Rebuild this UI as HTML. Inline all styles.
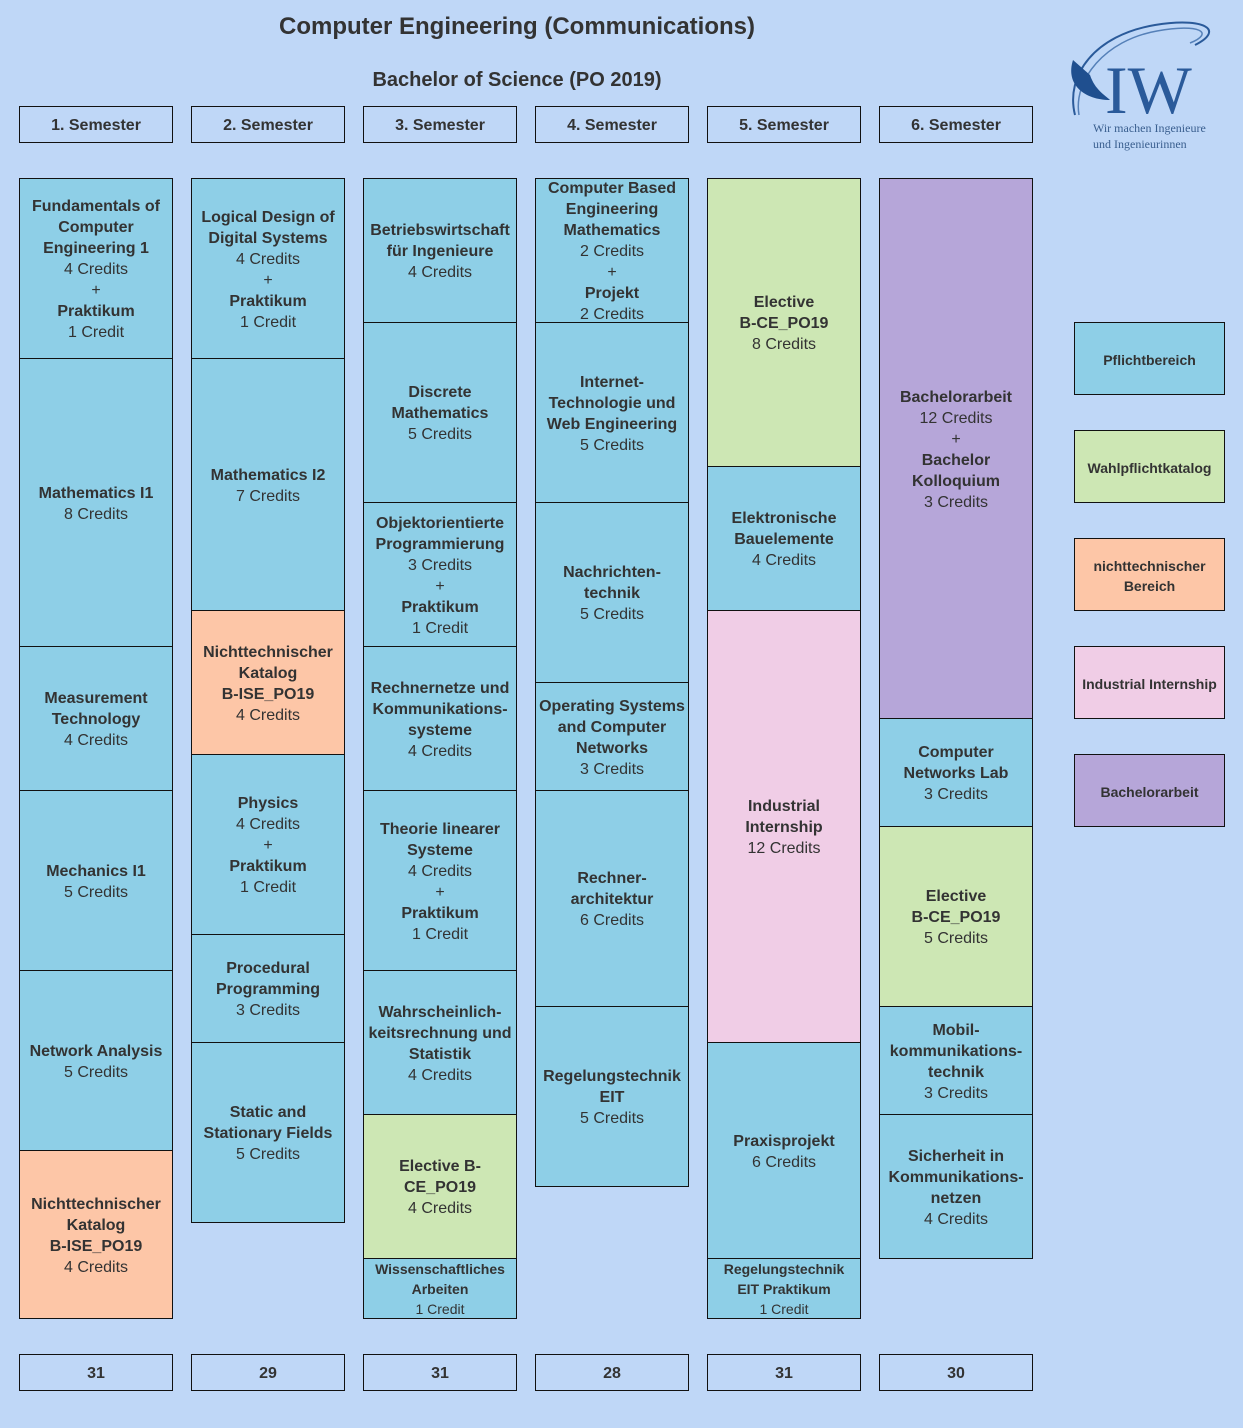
<!DOCTYPE html>
<html><head><meta charset="utf-8"><style>
*{box-sizing:border-box;margin:0;padding:0}
body{width:1243px;height:1428px;background:#bfd7f7;position:relative;overflow:hidden;font-family:"Liberation Sans",Arial,sans-serif;color:#333}
.b{position:absolute;border:1.5px solid #111;display:flex;align-items:center;justify-content:center;text-align:center;font-size:16px;line-height:21px;flex-direction:column;padding-top:2px}
.b b{font-weight:bold}
.bl{background:#8ecfe7}.g{background:#cde7b4}.o{background:#fdc6a7}.p{background:#f0cde6}.pu{background:#b6a6d9}
.h{background:#bfd7f7;font-weight:bold}
.s{font-size:14px;line-height:20px;padding-top:0}
.lg{font-size:14px;font-weight:bold;line-height:20px}
</style></head><body>
<div style="position:absolute;left:0;width:1034px;top:13px;text-align:center;font-size:24px;font-weight:bold">Computer Engineering (Communications)</div>
<div style="position:absolute;left:0;width:1034px;top:69px;text-align:center;font-size:20px;font-weight:bold">Bachelor of Science (PO 2019)</div>

<svg style="position:absolute;left:1065px;top:15px" width="170" height="145" viewBox="0 0 170 145">
<path d="M10 100 C0 60 30 20 90 10 C140 2 160 15 130 30" fill="none" stroke="#2a5a9a" stroke-width="2"/>
<path d="M14 100 C8 65 40 25 92 16 C135 8 150 18 125 28" fill="none" stroke="#5580b8" stroke-width="1.5"/>
<path d="M8 45 C0 70 20 85 45 85 C40 80 30 75 25 60" fill="#1f4f8f"/>
<text x="40" y="98" font-family="Liberation Serif,serif" font-size="68" fill="#2a5a9a">IW</text>
<text x="28" y="117" font-family="Liberation Serif,serif" font-size="12" fill="#3a5f8f">Wir machen Ingenieure</text>
<text x="28" y="133" font-family="Liberation Serif,serif" font-size="12" fill="#3a5f8f">und Ingenieurinnen</text>
</svg>

<div class="b h" style="left:19px;top:106px;width:154px;height:37px">1. Semester</div>
<div class="b h" style="left:191px;top:106px;width:154px;height:37px">2. Semester</div>
<div class="b h" style="left:363px;top:106px;width:154px;height:37px">3. Semester</div>
<div class="b h" style="left:535px;top:106px;width:154px;height:37px">4. Semester</div>
<div class="b h" style="left:707px;top:106px;width:154px;height:37px">5. Semester</div>
<div class="b h" style="left:879px;top:106px;width:154px;height:37px">6. Semester</div>

<div class="b bl" style="left:19px;top:178px;width:154px;height:181px"><b>Fundamentals of<br>Computer<br>Engineering 1</b>4 Credits<br>+<b>Praktikum</b>1 Credit</div>
<div class="b bl" style="left:19px;top:358px;width:154px;height:289px"><b>Mathematics I1</b>8 Credits</div>
<div class="b bl" style="left:19px;top:646px;width:154px;height:145px"><b>Measurement<br>Technology</b>4 Credits</div>
<div class="b bl" style="left:19px;top:790px;width:154px;height:181px"><b>Mechanics I1</b>5 Credits</div>
<div class="b bl" style="left:19px;top:970px;width:154px;height:181px"><b>Network Analysis</b>5 Credits</div>
<div class="b o" style="left:19px;top:1150px;width:154px;height:169px"><b>Nichttechnischer<br>Katalog<br>B-ISE_PO19</b>4 Credits</div>

<div class="b bl" style="left:191px;top:178px;width:154px;height:181px"><b>Logical Design of<br>Digital Systems</b>4 Credits<br>+<b>Praktikum</b>1 Credit</div>
<div class="b bl" style="left:191px;top:358px;width:154px;height:253px"><b>Mathematics I2</b>7 Credits</div>
<div class="b o" style="left:191px;top:610px;width:154px;height:145px"><b>Nichttechnischer<br>Katalog<br>B-ISE_PO19</b>4 Credits</div>
<div class="b bl" style="left:191px;top:754px;width:154px;height:181px"><b>Physics</b>4 Credits<br>+<b>Praktikum</b>1 Credit</div>
<div class="b bl" style="left:191px;top:934px;width:154px;height:109px"><b>Procedural<br>Programming</b>3 Credits</div>
<div class="b bl" style="left:191px;top:1042px;width:154px;height:181px"><b>Static and<br>Stationary Fields</b>5 Credits</div>

<div class="b bl" style="left:363px;top:178px;width:154px;height:145px"><b>Betriebswirtschaft<br>für Ingenieure</b>4 Credits</div>
<div class="b bl" style="left:363px;top:322px;width:154px;height:181px"><b>Discrete<br>Mathematics</b>5 Credits</div>
<div class="b bl" style="left:363px;top:502px;width:154px;height:145px"><b>Objektorientierte<br>Programmierung</b>3 Credits<br>+<b>Praktikum</b>1 Credit</div>
<div class="b bl" style="left:363px;top:646px;width:154px;height:145px"><b>Rechnernetze und<br>Kommunikations-<br>systeme</b>4 Credits</div>
<div class="b bl" style="left:363px;top:790px;width:154px;height:181px"><b>Theorie linearer<br>Systeme</b>4 Credits<br>+<b>Praktikum</b>1 Credit</div>
<div class="b bl" style="left:363px;top:970px;width:154px;height:145px"><b>Wahrscheinlich-<br>keitsrechnung und<br>Statistik</b>4 Credits</div>
<div class="b g" style="left:363px;top:1114px;width:154px;height:145px"><b>Elective B-<br>CE_PO19</b>4 Credits</div>
<div class="b bl s" style="left:363px;top:1258px;width:154px;height:61px"><b>Wissenschaftliches<br>Arbeiten</b>1 Credit</div>

<div class="b bl" style="left:535px;top:178px;width:154px;height:145px"><b>Computer Based<br>Engineering<br>Mathematics</b>2 Credits<br>+<b>Projekt</b>2 Credits</div>
<div class="b bl" style="left:535px;top:322px;width:154px;height:181px"><b>Internet-<br>Technologie und<br>Web Engineering</b>5 Credits</div>
<div class="b bl" style="left:535px;top:502px;width:154px;height:181px"><b>Nachrichten-<br>technik</b>5 Credits</div>
<div class="b bl" style="left:535px;top:682px;width:154px;height:109px"><b>Operating Systems<br>and Computer<br>Networks</b>3 Credits</div>
<div class="b bl" style="left:535px;top:790px;width:154px;height:217px"><b>Rechner-<br>architektur</b>6 Credits</div>
<div class="b bl" style="left:535px;top:1006px;width:154px;height:181px"><b>Regelungstechnik<br>EIT</b>5 Credits</div>

<div class="b g" style="left:707px;top:178px;width:154px;height:289px"><b>Elective<br>B-CE_PO19</b>8 Credits</div>
<div class="b bl" style="left:707px;top:466px;width:154px;height:145px"><b>Elektronische<br>Bauelemente</b>4 Credits</div>
<div class="b p" style="left:707px;top:610px;width:154px;height:433px"><b>Industrial<br>Internship</b>12 Credits</div>
<div class="b bl" style="left:707px;top:1042px;width:154px;height:217px"><b>Praxisprojekt</b>6 Credits</div>
<div class="b bl s" style="left:707px;top:1258px;width:154px;height:61px"><b>Regelungstechnik<br>EIT Praktikum</b>1 Credit</div>

<div class="b pu" style="left:879px;top:178px;width:154px;height:541px"><b>Bachelorarbeit</b>12 Credits<br>+<b>Bachelor<br>Kolloquium</b>3 Credits</div>
<div class="b bl" style="left:879px;top:718px;width:154px;height:109px"><b>Computer<br>Networks Lab</b>3 Credits</div>
<div class="b g" style="left:879px;top:826px;width:154px;height:181px"><b>Elective<br>B-CE_PO19</b>5 Credits</div>
<div class="b bl" style="left:879px;top:1006px;width:154px;height:109px"><b>Mobil-<br>kommunikations-<br>technik</b>3 Credits</div>
<div class="b bl" style="left:879px;top:1114px;width:154px;height:145px"><b>Sicherheit in<br>Kommunikations-<br>netzen</b>4 Credits</div>

<div class="b bl lg" style="left:1074px;top:322px;width:151px;height:73px">Pflichtbereich</div>
<div class="b g lg" style="left:1074px;top:430px;width:151px;height:73px">Wahlpflichtkatalog</div>
<div class="b o lg" style="left:1074px;top:538px;width:151px;height:73px">nichttechnischer<br>Bereich</div>
<div class="b p lg" style="left:1074px;top:646px;width:151px;height:73px">Industrial Internship</div>
<div class="b pu lg" style="left:1074px;top:754px;width:151px;height:73px">Bachelorarbeit</div>

<div class="b h" style="left:19px;top:1354px;width:154px;height:37px">31</div>
<div class="b h" style="left:191px;top:1354px;width:154px;height:37px">29</div>
<div class="b h" style="left:363px;top:1354px;width:154px;height:37px">31</div>
<div class="b h" style="left:535px;top:1354px;width:154px;height:37px">28</div>
<div class="b h" style="left:707px;top:1354px;width:154px;height:37px">31</div>
<div class="b h" style="left:879px;top:1354px;width:154px;height:37px">30</div>
</body></html>
